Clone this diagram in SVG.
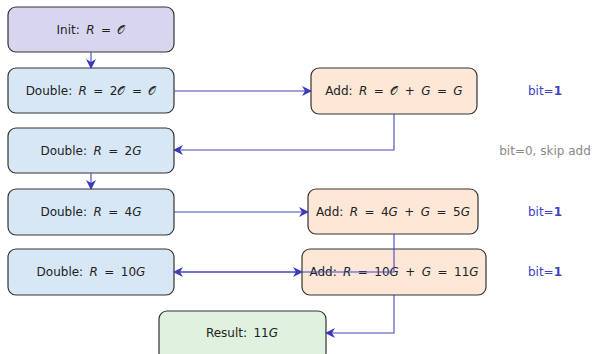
<svg xmlns="http://www.w3.org/2000/svg" width="592" height="354" viewBox="0 0 592 354">
<style>
.box{stroke:#333;stroke-width:1.2}
.init{fill:#d8d6ef}
.dbl{fill:#d7e7f6}
.add{fill:#fde8d7}
.res{fill:#dff1df}
text{font-family:"DejaVu Sans","Liberation Sans",sans-serif;font-size:12px;word-spacing:2.6px;fill:#222;text-anchor:middle;dominant-baseline:central}
.m{font-style:italic}
.c{fill:none;stroke:#4545c0;stroke-width:1.1}
.lbl{font-size:12px;word-spacing:0}
.blue{fill:#4040c0}
.gray{fill:#888}
.b{font-weight:bold}
</style>
<defs>
<marker id="ah" viewBox="0 0 10 10" refX="9" refY="5" markerWidth="10" markerHeight="10" markerUnits="userSpaceOnUse" orient="auto-start-reverse">
<path d="M0,0 L10,5 L0,10 L3,5 Z" fill="#3a3ab8"/>
</marker>
</defs>
<g id="init"><rect class="box init" x="8" y="7" width="166" height="45" rx="8"/><text x="91" y="30">Init: <tspan class="m">R</tspan> = 𝒪</text></g>
<g id="double1"><rect class="box dbl" x="8" y="68" width="166" height="45" rx="8"/><text x="91" y="91">Double: <tspan class="m">R</tspan> = 2𝒪 = 𝒪</text></g>
<g id="add1"><rect class="box add" x="311" y="68" width="166" height="46" rx="8"/><text x="394" y="91">Add: <tspan class="m">R</tspan> = 𝒪 + <tspan class="m">G</tspan> = <tspan class="m">G</tspan></text></g>
<g id="double2"><rect class="box dbl" x="8" y="128" width="166" height="45" rx="8"/><text x="91" y="151">Double: <tspan class="m">R</tspan> = 2<tspan class="m">G</tspan></text></g>
<g id="double3"><rect class="box dbl" x="8" y="189" width="166" height="46" rx="8"/><text x="91" y="212">Double: <tspan class="m">R</tspan> = 4<tspan class="m">G</tspan></text></g>
<g id="add2"><rect class="box add" x="308" y="189" width="170" height="45" rx="8"/><text x="393" y="212">Add: <tspan class="m">R</tspan> = 4<tspan class="m">G</tspan> + <tspan class="m">G</tspan> = 5<tspan class="m">G</tspan></text></g>
<g id="double4"><rect class="box dbl" x="8" y="249" width="166" height="46" rx="8"/><text x="91" y="272">Double: <tspan class="m">R</tspan> = 10<tspan class="m">G</tspan></text></g>
<g id="add3"><rect class="box add" x="302" y="249" width="184" height="46" rx="8"/><text x="394" y="272">Add: <tspan class="m">R</tspan> = 10<tspan class="m">G</tspan> + <tspan class="m">G</tspan> = 11<tspan class="m">G</tspan></text></g>
<g id="result"><rect class="box res" x="159" y="311" width="167" height="50" rx="8"/><text x="242" y="333">Result: 11<tspan class="m">G</tspan></text></g>
<g id="labels">
<text class="lbl blue" x="545" y="91">bit=<tspan class="b">1</tspan></text>
<text class="lbl gray" x="545" y="151">bit=0, skip add</text>
<text class="lbl blue" x="545" y="212">bit=<tspan class="b">1</tspan></text>
<text class="lbl blue" x="545" y="272">bit=<tspan class="b">1</tspan></text>
</g>
<g id="connectors">
<path class="c" d="M91,52 V68" marker-end="url(#ah)"/>
<path class="c" d="M174,91 H311" marker-end="url(#ah)"/>
<path class="c" d="M394,114 V150 H174" marker-end="url(#ah)"/>
<path class="c" d="M91,173 V189" marker-end="url(#ah)"/>
<path class="c" d="M174,212 H308" marker-end="url(#ah)"/>
<path class="c" d="M394,234 V272 H174" marker-end="url(#ah)"/>
<path class="c" d="M174,272 H302" marker-end="url(#ah)"/>
<path class="c" d="M394,295 V333 H326" marker-end="url(#ah)"/>
</g>
</svg>
